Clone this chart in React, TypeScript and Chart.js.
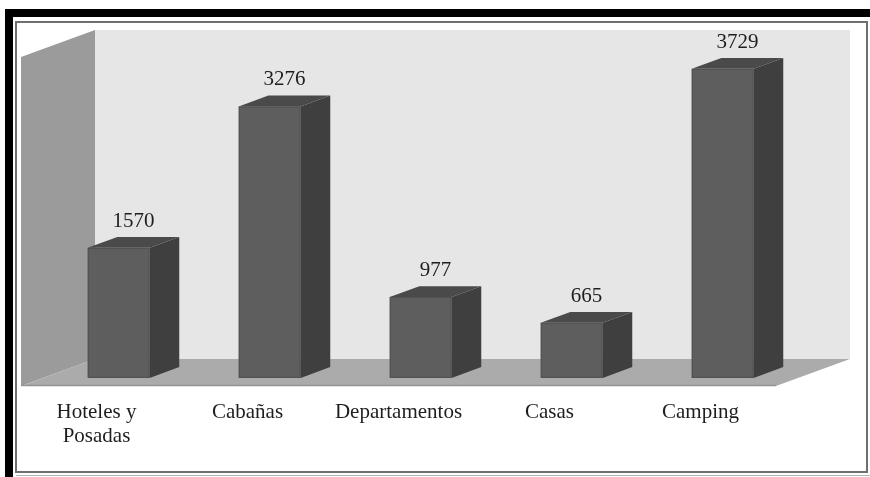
import { useEffect, useRef } from "react";
import { Chart, registerables } from "chart.js";

Chart.register(...registerables);

// Alojamientos por tipo
const categories: (string | string[])[] = [
  ["Hoteles y", "Posadas"],
  "Cabañas",
  "Departamentos",
  "Casas",
  "Camping",
];
const values = [1570, 3276, 977, 665, 3729];
const valueLabels = ["1570", "3276", "977", "665", "3729"];
const yMax = 3970;

// Oblique depth of the box (back wall offset from the front plane)
const DEPTH_DX = 74;
const DEPTH_DY = 27;
// Bars occupy this slice of the depth
const BAR_NEAR = 0.3;
const BAR_FAR = 0.7;

const FONT = "'Liberation Serif', 'Times New Roman', serif";

const box3dPlugin = {
  id: "box3d",
  beforeDraw(chart: any) {
    const { ctx, chartArea, width, height } = chart;
    const { left, right, top, bottom } = chartArea;
    ctx.save();
    ctx.fillStyle = "#ffffff";
    ctx.fillRect(0, 0, width, height);

    // outer frame
    ctx.fillStyle = "#000000";
    ctx.fillRect(5, 9, width - 5, 8);
    ctx.fillRect(5, 9, 8, height - 9);
    ctx.strokeStyle = "#6f6f6f";
    ctx.lineWidth = 2;
    ctx.strokeRect(16, 22, width - 19, 450);
    ctx.strokeStyle = "#b5b5b5";
    ctx.lineWidth = 1;
    ctx.beginPath();
    ctx.moveTo(16, 475.5);
    ctx.lineTo(width, 475.5);
    ctx.stroke();

    // back wall
    ctx.fillStyle = "#e6e6e6";
    ctx.fillRect(left + DEPTH_DX, top - DEPTH_DY, right - left, bottom - top);

    // left wall
    ctx.fillStyle = "#9b9b9b";
    ctx.beginPath();
    ctx.moveTo(left, top);
    ctx.lineTo(left + DEPTH_DX, top - DEPTH_DY);
    ctx.lineTo(left + DEPTH_DX, bottom - DEPTH_DY);
    ctx.lineTo(left, bottom);
    ctx.closePath();
    ctx.fill();

    // floor
    ctx.fillStyle = "#ababab";
    ctx.beginPath();
    ctx.moveTo(left, bottom);
    ctx.lineTo(left + DEPTH_DX, bottom - DEPTH_DY);
    ctx.lineTo(right + DEPTH_DX, bottom - DEPTH_DY);
    ctx.lineTo(right, bottom);
    ctx.closePath();
    ctx.fill();
    ctx.strokeStyle = "#929292";
    ctx.lineWidth = 1.5;
    ctx.beginPath();
    ctx.moveTo(left, bottom - 0.5);
    ctx.lineTo(right, bottom - 0.5);
    ctx.stroke();
    ctx.restore();
  },
  afterDatasetsDraw(chart: any) {
    const { ctx } = chart;
    const meta = chart.getDatasetMeta(0);
    const nx = DEPTH_DX * BAR_NEAR;
    const ny = -DEPTH_DY * BAR_NEAR;
    const fx = DEPTH_DX * BAR_FAR;
    const fy = -DEPTH_DY * BAR_FAR;
    ctx.save();
    meta.data.forEach((bar: any, i: number) => {
      const { x, y, base, width } = bar.getProps(["x", "y", "base", "width"], true);
      const l = x - width / 2;
      const r = x + width / 2;

      // side face
      ctx.fillStyle = "#3f3f3f";
      ctx.beginPath();
      ctx.moveTo(r + nx, y + ny);
      ctx.lineTo(r + fx, y + fy);
      ctx.lineTo(r + fx, base + fy);
      ctx.lineTo(r + nx, base + ny);
      ctx.closePath();
      ctx.fill();

      // top face
      ctx.fillStyle = "#4a4a4a";
      ctx.beginPath();
      ctx.moveTo(l + nx, y + ny);
      ctx.lineTo(l + fx, y + fy);
      ctx.lineTo(r + fx, y + fy);
      ctx.lineTo(r + nx, y + ny);
      ctx.closePath();
      ctx.fill();

      // front face
      ctx.fillStyle = "#5e5e5e";
      ctx.fillRect(l + nx, y + ny, r - l, base - y);
      ctx.strokeStyle = "#505050";
      ctx.lineWidth = 1;
      ctx.strokeRect(l + nx + 0.5, y + ny + 0.5, r - l - 1, base - y - 1);

      // value label
      ctx.fillStyle = "#1e1e1e";
      ctx.font = `21px ${FONT}`;
      ctx.textAlign = "center";
      ctx.textBaseline = "alphabetic";
      ctx.fillText(valueLabels[i], x + (nx + fx) / 2, y + ny - 21);
    });
    ctx.restore();
  },
};

export default function App() {
  const canvasRef = useRef<HTMLCanvasElement | null>(null);

  useEffect(() => {
    const canvas = canvasRef.current;
    if (!canvas) return;
    const chart = new Chart(canvas, {
      type: "bar",
      data: {
        labels: categories,
        datasets: [
          {
            data: values,
            backgroundColor: "rgba(0,0,0,0)",
            borderWidth: 0,
            categoryPercentage: 1,
            barPercentage: 0.41,
          },
        ],
      },
      options: {
        responsive: false,
        devicePixelRatio: 1,
        animation: false,
        layout: { padding: { left: 21, right: 94, top: 57, bottom: 0 } },
        plugins: {
          legend: { display: false },
          tooltip: { enabled: false },
        },
        scales: {
          x: {
            grid: { display: false, drawTicks: false },
            border: { display: false },
            ticks: {
              color: "#1e1e1e",
              padding: 14,
              maxRotation: 0,
              autoSkip: false,
              font: { family: FONT, size: 21, lineHeight: 1.15 },
            },
            afterFit: (scale: any) => {
              scale.height = 91;
            },
          },
          y: { display: false, min: 0, max: yMax },
        },
      },
      plugins: [box3dPlugin],
    });
    return () => chart.destroy();
  }, []);

  return (
    <div style={{ position: "fixed", left: 0, top: 0, width: 870, height: 477 }}>
      <canvas ref={canvasRef} width={870} height={477} style={{ display: "block" }} />
    </div>
  );
}
